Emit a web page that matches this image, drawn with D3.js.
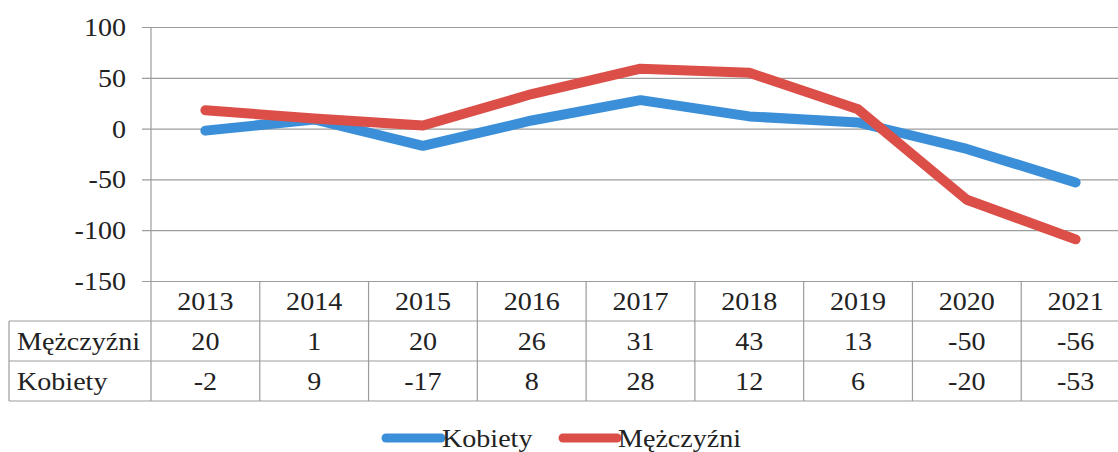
<!DOCTYPE html>
<html><head><meta charset="utf-8">
<script src="https://cdn.jsdelivr.net/npm/d3@7"></script>
</head><body style="margin:0">
<svg id="c" width="1118" height="452" style="display:block;background:#fff"></svg>
<script>
const years = ["2013","2014","2015","2016","2017","2018","2019","2020","2021"];
const men = [20, 1, 20, 26, 31, 43, 13, -50, -56];
const women = [-2, 9, -17, 8, 28, 12, 6, -20, -53];
const yTicks = [-150, -100, -50, 0, 50, 100];
const seriesNames = ["Kobiety", "Mężczyźni"];
const colors = {"Kobiety": "#3b8fd8", "Mężczyźni": "#dc4e48"};

(function () {
const svg = d3.select("#c");
const pL = 151, pR = 1130, pT = 27, pB = 281;
const tableLeft = 9, rowH = 40;
const fs = 26, sx = 1.08, grid = "#9c9c9c";

const x = d3.scaleBand().domain(years).range([pL, pR]);
const y = d3.scaleLinear().domain([-150, 100]).range([pB, pT]);

function txt(g, s, px, py, anchor) {
  return g.append("text").attr("transform", `translate(${px},${py}) scale(${sx},1)`)
    .style("font-family", '"Liberation Serif"').attr("font-size", fs)
    .attr("text-anchor", anchor).attr("fill", "#222").text(s);
}

// gridlines + y axis
const yAxis = d3.axisLeft(y).tickValues(yTicks).tickSize(pR - pL + 9).tickFormat("");
const ga = svg.append("g").attr("transform", `translate(${pR},0)`).call(yAxis);
ga.select(".domain").remove();
ga.selectAll(".tick line").attr("stroke", grid).attr("stroke-width", 1.2);
yTicks.forEach(t => txt(svg, String(t), 126, y(t) + 9, "end"));

// vertical axis line
svg.append("line").attr("x1", pL).attr("x2", pL).attr("y1", pT).attr("y2", pB + 3 * rowH)
  .attr("stroke", grid).attr("stroke-width", 1.2);

// table
const tb = svg.append("g");
[1, 2, 3].forEach(r => tb.append("line").attr("x1", tableLeft).attr("x2", pR)
  .attr("y1", pB + r * rowH).attr("y2", pB + r * rowH).attr("stroke", grid).attr("stroke-width", 1.2));
tb.append("line").attr("x1", tableLeft).attr("x2", tableLeft).attr("y1", pB + rowH).attr("y2", pB + 3 * rowH)
  .attr("stroke", grid).attr("stroke-width", 1.2);
years.forEach((yr, i) => {
  const xr = x(yr) + x.bandwidth();
  tb.append("line").attr("x1", xr).attr("x2", xr).attr("y1", pB).attr("y2", pB + 3 * rowH)
    .attr("stroke", grid).attr("stroke-width", 1.2);
  const cx = x(yr) + x.bandwidth() / 2;
  txt(tb, yr, cx, pB + 29, "middle");
  txt(tb, String(men[i]), cx, pB + rowH + 29, "middle");
  txt(tb, String(women[i]), cx, pB + 2 * rowH + 29, "middle");
});
txt(tb, "Mężczyźni", 17, pB + rowH + 29, "start");
txt(tb, "Kobiety", 17, pB + 2 * rowH + 29, "start");

// stacked lines
const rows = years.map((yr, i) => ({year: yr, "Kobiety": women[i], "Mężczyźni": men[i]}));
const stacked = d3.stack().keys(seriesNames)(rows);
const line = d3.line().x((d, i) => x(years[i]) + x.bandwidth() / 2).y(d => y(d[1]));
stacked.forEach(s => {
  svg.append("path").datum(s).attr("d", line).attr("fill", "none")
    .attr("stroke", colors[s.key]).attr("stroke-width", 10)
    .attr("stroke-linecap", "round").attr("stroke-linejoin", "round");
});

// legend
const legend = [{name: "Kobiety", x0: 386, x1: 441, tx: 442}, {name: "Mężczyźni", x0: 563, x1: 617, tx: 618}];
legend.forEach(l => {
  svg.append("line").attr("x1", l.x0).attr("x2", l.x1).attr("y1", 438).attr("y2", 438)
    .attr("stroke", colors[l.name]).attr("stroke-width", 9).attr("stroke-linecap", "round");
  txt(svg, l.name, l.tx, 447, "start");
});
})();
</script>
</body></html>
